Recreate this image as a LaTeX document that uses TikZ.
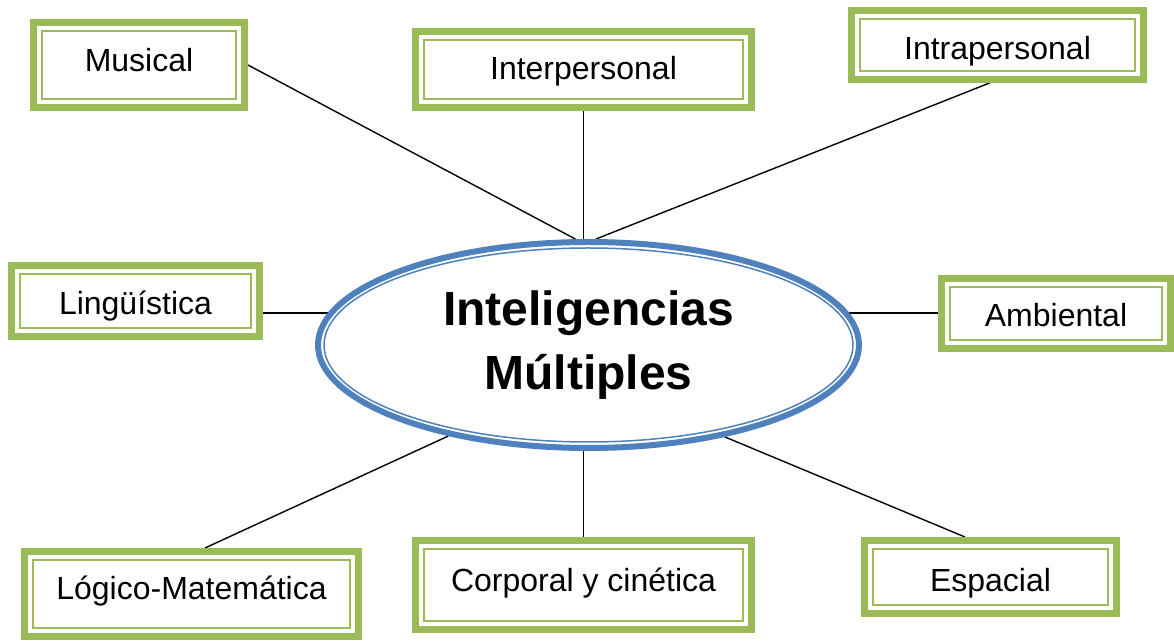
\documentclass[tikz,border=0pt]{standalone}
\usepackage{fontspec}
\setmainfont{Liberation Sans}
\usetikzlibrary{shapes.geometric, positioning}
\usetikzlibrary{backgrounds}
\definecolor{boxgreen}{HTML}{9BBB59}
\definecolor{ovalblue}{HTML}{4F81BD}
\tikzset{
  box/.style  = {draw=boxgreen, line width=3.5pt, rectangle, fill=white, inner sep=0pt, text=black,
    text depth=0pt, font=\fontsize{16}{19}\selectfont,
    path picture={\draw[boxgreen, line width=1pt]
      ([shift={(4.25pt,-4.25pt)}]path picture bounding box.north west) rectangle
      ([shift={(-4.25pt,4.25pt)}]path picture bounding box.south east);}},
  oval/.style = {draw=ovalblue, line width=3pt, ellipse, fill=white, inner sep=0pt, align=center,
    minimum width=270.5pt, minimum height=103pt, font=\bfseries\fontsize{24}{32}\selectfont,
    path picture={\draw[ovalblue, line width=0.75pt]
      (path picture bounding box.center) ellipse [x radius=132.25pt, y radius=48.5pt];}},
  link/.style = {draw, black, line width=0.7pt},
}

\begin{document}
\begin{tikzpicture}[x=0.5pt, y=-0.5pt]
    \useasboundingbox (0,0) rectangle (1174,641);
    \node (n00) [oval] at (588.5,345) {Inteligencias\\Múltiples};
    \node (n11) [box, minimum width=105.5pt, minimum height=42.5pt, text height=7pt] at (139,65) {Musical};
    \node (n12) [box, minimum width=168pt, minimum height=38pt, text height=10.5pt] at (583.5,69.5) {Interpersonal};
    \node (n13) [box, minimum width=146pt, minimum height=34.5pt, text height=15pt] at (997.5,45) {Intrapersonal};
    \node (n14) [box, minimum width=124pt, minimum height=35.5pt, text height=14pt] at (135.5,301) {Lingüística};
    \node (n15) [box, minimum width=114.5pt, minimum height=35pt, text height=13.5pt] at (1056,313.5) {Ambiental};
    \node (n16) [box, minimum width=167pt, minimum height=42.5pt, text height=6pt] at (191.5,594) {Lógico-Matemática};
    \node (n17) [box, minimum width=168pt, minimum height=44.5pt, text height=7pt] at (583.5,585) {Corporal y cinética};
    \node (n18) [box, minimum width=126pt, minimum height=36.5pt, text height=15pt] at (990.5,577) {Espacial};

    \begin{scope}[on background layer]
        \draw [link] (n11.east) -- (n00.97);
        \draw [link] (n12.south) -- (n12.south |- n00.north);
        \draw [link] ([xshift=-4pt]n13.south) -- (n00.86);
        \draw [link] (n00.173) -- (n00.173 -| n14.east);
        \draw [link] (n00.7) -- (n00.7 -| n15.west);
        \draw [link] ([xshift=6.75pt]n16.north) -- (n00.213);
        \draw [link] (n17.north) -- (n17.north |- n00.south);
        \draw [link] ([xshift=-12.75pt]n18.north) -- (n00.326);
    \end{scope}
\end{tikzpicture}
\end{document}
